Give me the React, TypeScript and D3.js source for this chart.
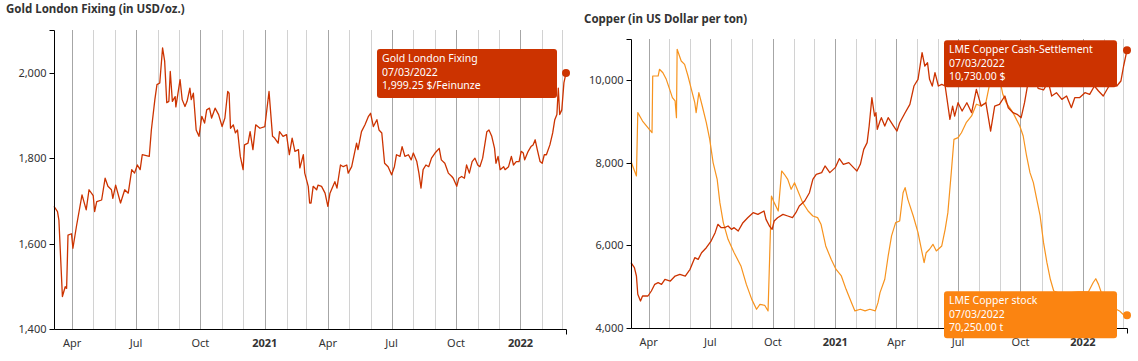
import React from 'react';
import * as d3 from 'd3';

// ---------- DATA ----------
const startDate = '2020-03-06';
const endDate = '2022-03-07';

const goldTitle = 'Gold London Fixing (in USD/oz.)';
const copperTitle = 'Copper (in US Dollar per ton)';

const goldTicks = [1400, 1600, 1800, 2000];
const copperTicks = [4000, 6000, 8000, 10000];

const goldSeries: [string, number][] = [
  ['2020-03-06', 1687], ['2020-03-11', 1675], ['2020-03-13', 1655], ['2020-03-18', 1476], ['2020-03-22', 1499],
  ['2020-03-24', 1495], ['2020-03-26', 1620], ['2020-03-31', 1623], ['2020-04-02', 1589], ['2020-04-07', 1640],
  ['2020-04-15', 1714], ['2020-04-21', 1679], ['2020-04-25', 1726], ['2020-05-01', 1712], ['2020-05-03', 1675],
  ['2020-05-06', 1698], ['2020-05-13', 1702], ['2020-05-18', 1753], ['2020-05-22', 1734], ['2020-05-27', 1726],
  ['2020-05-29', 1706], ['2020-06-02', 1737], ['2020-06-09', 1695], ['2020-06-15', 1726], ['2020-06-20', 1718],
  ['2020-06-25', 1773], ['2020-06-29', 1765], ['2020-07-03', 1784], ['2020-07-07', 1773], ['2020-07-10', 1808],
  ['2020-07-20', 1804], ['2020-07-23', 1866], ['2020-07-28', 1937], ['2020-07-31', 1972], ['2020-08-04', 1976],
  ['2020-08-08', 2058], ['2020-08-11', 2027], ['2020-08-14', 1930], ['2020-08-17', 1933], ['2020-08-19', 2003],
  ['2020-08-22', 1933], ['2020-08-26', 1944], ['2020-08-27', 1920], ['2020-09-02', 1984], ['2020-09-05', 1937],
  ['2020-09-09', 1921], ['2020-09-12', 1933], ['2020-09-16', 1964], ['2020-09-18', 1937], ['2020-09-21', 1952],
  ['2020-09-25', 1866], ['2020-09-29', 1851], ['2020-10-03', 1898], ['2020-10-07', 1882], ['2020-10-10', 1913],
  ['2020-10-14', 1917], ['2020-10-17', 1894], ['2020-10-22', 1917], ['2020-10-27', 1902], ['2020-11-01', 1874],
  ['2020-11-05', 1894], ['2020-11-09', 1956], ['2020-11-11', 1952], ['2020-11-13', 1870], ['2020-11-17', 1878],
  ['2020-11-20', 1859], ['2020-11-23', 1866], ['2020-11-27', 1804], ['2020-12-01', 1773], ['2020-12-03', 1831],
  ['2020-12-08', 1835], ['2020-12-11', 1862], ['2020-12-15', 1820], ['2020-12-19', 1878], ['2020-12-25', 1870],
  ['2021-01-01', 1874], ['2021-01-07', 1956], ['2021-01-12', 1851], ['2021-01-15', 1847], ['2021-01-20', 1835],
  ['2021-01-22', 1862], ['2021-01-27', 1851], ['2021-02-01', 1855], ['2021-02-05', 1808], ['2021-02-09', 1847],
  ['2021-02-13', 1816], ['2021-02-18', 1820], ['2021-02-20', 1777], ['2021-02-25', 1808], ['2021-02-27', 1765],
  ['2021-03-04', 1734], ['2021-03-06', 1695], ['2021-03-08', 1695], ['2021-03-11', 1734], ['2021-03-16', 1726],
  ['2021-03-18', 1737], ['2021-03-23', 1734], ['2021-03-28', 1718], ['2021-04-01', 1687], ['2021-04-04', 1718],
  ['2021-04-11', 1745], ['2021-04-14', 1730], ['2021-04-19', 1784], ['2021-04-23', 1780], ['2021-04-28', 1784],
  ['2021-04-30', 1765], ['2021-05-05', 1780], ['2021-05-12', 1835], ['2021-05-14', 1820], ['2021-05-19', 1862],
  ['2021-05-24', 1878], ['2021-05-29', 1898], ['2021-06-01', 1905], ['2021-06-05', 1874], ['2021-06-10', 1890],
  ['2021-06-13', 1866], ['2021-06-17', 1859], ['2021-06-21', 1788], ['2021-06-26', 1780], ['2021-07-01', 1761],
  ['2021-07-05', 1780], ['2021-07-08', 1808], ['2021-07-13', 1804], ['2021-07-16', 1827], ['2021-07-20', 1804],
  ['2021-07-25', 1808], ['2021-07-29', 1796], ['2021-08-01', 1812], ['2021-08-06', 1792], ['2021-08-09', 1765],
  ['2021-08-12', 1730], ['2021-08-15', 1773], ['2021-08-19', 1784], ['2021-08-23', 1780], ['2021-08-27', 1800],
  ['2021-09-01', 1812], ['2021-09-07', 1823], ['2021-09-10', 1796], ['2021-09-15', 1788], ['2021-09-20', 1765],
  ['2021-09-25', 1757], ['2021-09-27', 1753], ['2021-10-02', 1734], ['2021-10-05', 1753], ['2021-10-09', 1757],
  ['2021-10-13', 1753], ['2021-10-16', 1784], ['2021-10-20', 1765], ['2021-10-24', 1792], ['2021-10-28', 1800],
  ['2021-11-01', 1784], ['2021-11-04', 1780], ['2021-11-08', 1800], ['2021-11-14', 1862], ['2021-11-17', 1866],
  ['2021-11-21', 1851], ['2021-11-25', 1823], ['2021-11-27', 1788], ['2021-11-30', 1804], ['2021-12-03', 1773],
  ['2021-12-08', 1780], ['2021-12-10', 1773], ['2021-12-15', 1780], ['2021-12-19', 1804], ['2021-12-22', 1784],
  ['2021-12-26', 1792], ['2021-12-30', 1792], ['2022-01-02', 1816], ['2022-01-05', 1812], ['2022-01-07', 1796],
  ['2022-01-12', 1816], ['2022-01-16', 1827], ['2022-01-19', 1831], ['2022-01-22', 1843], ['2022-01-25', 1820],
  ['2022-01-29', 1792], ['2022-02-01', 1788], ['2022-02-04', 1808], ['2022-02-07', 1808], ['2022-02-12', 1831],
  ['2022-02-16', 1859], ['2022-02-19', 1890], ['2022-02-22', 1902], ['2022-02-24', 1964], ['2022-02-26', 1902],
  ['2022-03-01', 1913], ['2022-03-04', 1976], ['2022-03-07', 1999.25],
];

const copperSeries: [string, number][] = [
  ['2020-03-06', 5582], ['2020-03-11', 5461], ['2020-03-14', 5259], ['2020-03-16', 4816], ['2020-03-20', 4654],
  ['2020-03-23', 4775], ['2020-03-31', 4775], ['2020-04-05', 4896], ['2020-04-10', 5058], ['2020-04-15', 5098],
  ['2020-04-20', 5058], ['2020-04-25', 5179], ['2020-05-03', 5138], ['2020-05-10', 5259], ['2020-05-17', 5300],
  ['2020-05-25', 5259], ['2020-06-01', 5421], ['2020-06-08', 5703], ['2020-06-13', 5663], ['2020-06-18', 5824],
  ['2020-06-25', 5945], ['2020-07-02', 6107], ['2020-07-08', 6309], ['2020-07-12', 6511], ['2020-07-17', 6430],
  ['2020-07-22', 6430], ['2020-07-27', 6470], ['2020-08-01', 6390], ['2020-08-05', 6430], ['2020-08-11', 6350],
  ['2020-08-18', 6551], ['2020-08-25', 6672], ['2020-09-02', 6793], ['2020-09-09', 6753], ['2020-09-18', 6834],
  ['2020-09-21', 6632], ['2020-09-26', 6470], ['2020-09-30', 6390], ['2020-10-03', 6592], ['2020-10-08', 6672],
  ['2020-10-16', 6753], ['2020-10-23', 6713], ['2020-10-30', 6672], ['2020-11-04', 6793], ['2020-11-09', 6955],
  ['2020-11-17', 7076], ['2020-11-24', 7277], ['2020-11-29', 7601], ['2020-12-04', 7722], ['2020-12-12', 7763],
  ['2020-12-17', 7924], ['2020-12-24', 7763], ['2021-01-01', 7884], ['2021-01-07', 8101], ['2021-01-13', 7965],
  ['2021-01-21', 8005], ['2021-01-28', 7884], ['2021-02-02', 7803], ['2021-02-07', 7965], ['2021-02-12', 8327],
  ['2021-02-17', 8489], ['2021-02-20', 8892], ['2021-02-24', 9578], ['2021-02-28', 9135], ['2021-03-02', 9215],
  ['2021-03-04', 8812], ['2021-03-08', 9013], ['2021-03-10', 9094], ['2021-03-15', 8892], ['2021-03-20', 9094],
  ['2021-03-28', 8892], ['2021-04-02', 8771], ['2021-04-06', 8973], ['2021-04-14', 9215], ['2021-04-21', 9417],
  ['2021-04-27', 9861], ['2021-05-03', 10023], ['2021-05-09', 10669], ['2021-05-13', 10346], ['2021-05-17', 10427],
  ['2021-05-20', 10023], ['2021-05-24', 9861], ['2021-05-28', 10184], ['2021-06-02', 9861], ['2021-06-07', 9901],
  ['2021-06-12', 9861], ['2021-06-19', 9054], ['2021-06-23', 9376], ['2021-06-26', 9134], ['2021-07-01', 9457],
  ['2021-07-07', 9255], ['2021-07-14', 9457], ['2021-07-21', 9215], ['2021-07-28', 9781], ['2021-08-04', 9376],
  ['2021-08-11', 9457], ['2021-08-18', 8771], ['2021-08-24', 9376], ['2021-08-31', 9417], ['2021-09-08', 9619],
  ['2021-09-13', 9336], ['2021-09-20', 9215], ['2021-09-26', 9175], ['2021-10-02', 9094], ['2021-10-07', 9457],
  ['2021-10-13', 10023], ['2021-10-17', 10507], ['2021-10-22', 10104], ['2021-10-27', 9805], ['2021-11-04', 9765],
  ['2021-11-11', 9966], ['2021-11-16', 9619], ['2021-11-23', 9700], ['2021-12-01', 9538], ['2021-12-08', 9619],
  ['2021-12-15', 9336], ['2021-12-20', 9578], ['2021-12-27', 9578], ['2022-01-04', 9700], ['2022-01-11', 9659],
  ['2022-01-18', 9861], ['2022-01-24', 9740], ['2022-01-31', 9619], ['2022-02-07', 9820], ['2022-02-14', 9966],
  ['2022-02-20', 9861], ['2022-02-26', 9982], ['2022-03-02', 10346], ['2022-03-07', 10730],
];

const stockSeries: [string, number][] = [
  ['2020-03-06', 182000], ['2020-03-14', 171500], ['2020-03-16', 217500], ['2020-03-23', 211400], ['2020-04-02', 205400],
  ['2020-04-06', 202900], ['2020-04-07', 244100], ['2020-04-15', 244100], ['2020-04-17', 249000], ['2020-04-22', 246500],
  ['2020-04-27', 241700], ['2020-05-02', 234400], ['2020-05-06', 228400], ['2020-05-10', 226000], ['2020-05-12', 213800],
  ['2020-05-13', 263500], ['2020-05-19', 255000], ['2020-05-24', 252600], ['2020-05-29', 244100], ['2020-06-03', 234400],
  ['2020-06-08', 224700], ['2020-06-10', 217500], ['2020-06-14', 232000], ['2020-06-19', 222300], ['2020-06-25', 210200],
  ['2020-06-30', 198100], ['2020-07-05', 181200], ['2020-07-11', 169000], ['2020-07-15', 152100], ['2020-07-20', 137600],
  ['2020-07-27', 125400], ['2020-08-05', 115700], ['2020-08-15', 106100], ['2020-08-23', 92700], ['2020-08-31', 81800],
  ['2020-09-07', 74600], ['2020-09-12', 78200], ['2020-09-19', 77500], ['2020-09-24', 73400], ['2020-09-29', 156900],
  ['2020-10-03', 152100], ['2020-10-09', 146000], ['2020-10-14', 175100], ['2020-10-18', 172700], ['2020-10-23', 169000],
  ['2020-10-28', 161800], ['2020-11-02', 166600], ['2020-11-07', 160600], ['2020-11-14', 152100], ['2020-11-22', 146000],
  ['2020-11-29', 142400], ['2020-12-06', 141200], ['2020-12-11', 136400], ['2020-12-18', 120600], ['2020-12-26', 110900],
  ['2021-01-02', 103700], ['2021-01-10', 98800], ['2021-01-17', 89100], ['2021-01-25', 79400], ['2021-01-30', 73400],
  ['2021-02-07', 74600], ['2021-02-14', 73400], ['2021-02-21', 74600], ['2021-03-01', 73400], ['2021-03-05', 79400],
  ['2021-03-08', 86700], ['2021-03-15', 96400], ['2021-03-20', 113300], ['2021-03-25', 127900], ['2021-03-31', 137600],
  ['2021-04-06', 138800], ['2021-04-11', 159300], ['2021-04-14', 163000], ['2021-04-18', 154500], ['2021-04-26', 142400],
  ['2021-05-03', 130300], ['2021-05-08', 118200], ['2021-05-12', 108500], ['2021-05-15', 115700], ['2021-05-20', 118200],
  ['2021-05-25', 121800], ['2021-05-30', 117000], ['2021-06-07', 120600], ['2021-06-12', 132700], ['2021-06-16', 144800],
  ['2021-06-21', 173900], ['2021-06-25', 198100], ['2021-07-01', 199300], ['2021-07-06', 202900], ['2021-07-13', 210200],
  ['2021-07-21', 215100], ['2021-07-28', 223600], ['2021-08-04', 222300], ['2021-08-11', 224700], ['2021-08-16', 236900],
  ['2021-08-18', 244100], ['2021-08-22', 253800], ['2021-08-28', 250000], ['2021-09-05', 230800], ['2021-09-10', 224700],
  ['2021-09-15', 221100], ['2021-09-20', 217500], ['2021-09-25', 212600], ['2021-09-30', 207800], ['2021-10-05', 200500],
  ['2021-10-10', 186000], ['2021-10-15', 173900], ['2021-10-20', 166600], ['2021-10-25', 154500], ['2021-10-30', 142400],
  ['2021-11-04', 123000], ['2021-11-09', 108500], ['2021-11-14', 96400], ['2021-11-19', 87900], ['2021-12-01', 85700],
  ['2021-12-15', 86700], ['2021-12-25', 87200], ['2022-01-09', 87200], ['2022-01-16', 93900], ['2022-01-20', 96800],
  ['2022-01-24', 92700], ['2022-01-29', 85500], ['2022-02-07', 79400], ['2022-02-19', 74600], ['2022-02-24', 73400],
  ['2022-03-01', 71000], ['2022-03-07', 70250],
];

const goldTooltip = ['Gold London Fixing', '07/03/2022', '1,999.25 $/Feinunze'];
const copperTooltip = ['LME Copper Cash-Settlement', '07/03/2022', '10,730.00 $'];
const stockTooltip = ['LME Copper stock', '07/03/2022', '70,250.00 t'];

const monthLabels = ['', '', '', 'Apr', '', '', 'Jul', '', '', 'Oct', '', ''];

// ---------- STYLE ----------
const FONT = "'Noto Sans', 'DejaVu Sans', sans-serif";
const RED = '#cc3300';
const ORANGE = '#f7931e';
const ORANGE_BOX = '#fb8411';
const TEXT = '#333';

const parse = d3.utcParse('%Y-%m-%d');

type Pt = { d: Date; v: number };
const toPts = (s: [string, number][]): Pt[] => s.map(([d, v]) => ({ d: parse(d) as Date, v }));

function TimeGrid({ x, y0, y1, x0, x1 }: { x: d3.ScaleTime<number, number>; y0: number; y1: number; x0: number; x1: number }) {
  const months = d3.utcMonth.range(d3.utcMonth.ceil(x.domain()[0]), x.domain()[1]);
  return (
    <g>
      {months.map((m, i) => {
        const px = Math.round(x(m)) + 0.5;
        const q = m.getUTCMonth() % 3 === 0;
        return <line key={i} x1={px} x2={px} y1={y0} y2={y1} stroke={q ? '#a6a6a6' : '#d2d2d2'} strokeWidth={1} />;
      })}
    </g>
  );
}

function XLabels({ x, y }: { x: d3.ScaleTime<number, number>; y: number }) {
  const months = d3.utcMonth.range(d3.utcMonth.ceil(x.domain()[0]), x.domain()[1]);
  return (
    <g fontFamily={FONT} fontSize={11} fill={TEXT} textAnchor="middle">
      {months.map((m, i) => {
        const mo = m.getUTCMonth();
        if (mo === 0) {
          return <text key={i} x={x(m)} y={y} fontWeight="bold">{m.getUTCFullYear()}</text>;
        }
        const lbl = monthLabels[mo];
        if (!lbl) return null;
        return <text key={i} x={x(m)} y={y}>{lbl}</text>;
      })}
    </g>
  );
}

function Axes({ x, y, ticks }: { x: d3.ScaleTime<number, number>; y: d3.ScaleLinear<number, number>; ticks: number[] }) {
  const [xa, xb] = x.range();
  const [yb, yt] = y.range();
  const fmt = d3.format(',');
  const ax = Math.round(xa) + 0.5;
  const by = Math.round(yb) + 0.5;
  return (
    <g>
      <path d={`M${ax - 5},${Math.round(yt) + 0.5}H${ax}V${by}`} fill="none" stroke="#000" strokeWidth={1} />
      <path d={`M${ax},${by}H${Math.round(xb) + 0.5}V${by + 5}`} fill="none" stroke="#000" strokeWidth={1} />
      {ticks.map((t) => (
        <g key={t}>
          <line x1={ax - 5} x2={ax} y1={Math.round(y(t)) + 0.5} y2={Math.round(y(t)) + 0.5} stroke="#000" />
          <text x={ax - 8} y={y(t) + 4} textAnchor="end" fontFamily={FONT} fontSize={11} fill={TEXT}>{fmt(t)}</text>
        </g>
      ))}
    </g>
  );
}

function Tooltip({ x, y, w, h, fill, lines }: { x: number; y: number; w: number; h: number; fill: string; lines: string[] }) {
  return (
    <g>
      <rect x={x} y={y} width={w} height={h} rx={3} ry={3} fill={fill} />
      {lines.map((l, i) => (
        <text key={i} x={x + 5} y={y + 13 + i * 13.6} fontFamily={FONT} fontSize={10.5} fill="#fff">{l}</text>
      ))}
    </g>
  );
}

export default function App() {
  const d0 = parse(startDate) as Date;
  const d1 = parse(endDate) as Date;

  // Gold chart
  const gx = d3.scaleUtc().domain([d0, d1]).range([54, 566]);
  const gy = d3.scaleLinear().domain([1400, 2100]).range([329, 30]);
  const gold = toPts(goldSeries);
  const gLine = d3.line<Pt>().x((p) => gx(p.d)).y((p) => gy(p.v));
  const gLast = gold[gold.length - 1];

  // Copper chart
  const cx = d3.scaleUtc().domain([d0, d1]).range([631, 1127]);
  const cy = d3.scaleLinear().domain([4000, 11000]).range([328, 39]);
  const sy = d3.scaleLinear().domain([61000, 271000]).range([328, 39]);
  const copper = toPts(copperSeries);
  const stock = toPts(stockSeries);
  const cLine = d3.line<Pt>().x((p) => cx(p.d)).y((p) => cy(p.v));
  const sLine = d3.line<Pt>().x((p) => cx(p.d)).y((p) => sy(p.v));
  const cLast = copper[copper.length - 1];
  const sLast = stock[stock.length - 1];

  const gTipX = gx(gLast.d) - 189;
  const gTipY = gy(gLast.v) - 24;
  const cTipX = cx(cLast.d) - 183;
  const cTipY = cy(cLast.v) - 10;
  const sTipY = sy(sLast.v) - 24;

  return (
    <svg width={1138} height={361} style={{ position: 'absolute', left: 0, top: 0, background: '#fff' }}>
      <rect x={0} y={0} width={1138} height={361} fill="#fff" />
      {/* Gold */}
      <text x={6} y={13} fontFamily={FONT} fontSize={11.5} fontWeight="bold" fill={TEXT}>{goldTitle}</text>
      <TimeGrid x={gx} y0={30} y1={329} x0={54} x1={566} />
      <path d={gLine(gold) || ''} fill="none" stroke={RED} strokeWidth={1.3} strokeLinejoin="round" />
      <Axes x={gx} y={gy} ticks={goldTicks} />
      <XLabels x={gx} y={347} />
      <circle cx={gx(gLast.d)} cy={gy(gLast.v)} r={4} fill={RED} />
      <Tooltip x={gTipX} y={gTipY} w={180} h={49} fill={RED} lines={goldTooltip} />

      {/* Copper */}
      <text x={584} y={22.5} fontFamily={FONT} fontSize={11.5} fontWeight="bold" fill={TEXT}>{copperTitle}</text>
      <TimeGrid x={cx} y0={39} y1={328} x0={631} x1={1127} />
      <path d={sLine(stock) || ''} fill="none" stroke={ORANGE} strokeWidth={1.2} strokeLinejoin="round" />
      <path d={cLine(copper) || ''} fill="none" stroke={RED} strokeWidth={1.3} strokeLinejoin="round" />
      <Axes x={cx} y={cy} ticks={copperTicks} />
      <XLabels x={cx} y={346} />
      <circle cx={cx(cLast.d)} cy={cy(cLast.v)} r={4} fill={RED} />
      <circle cx={cx(sLast.d)} cy={sy(sLast.v)} r={4} fill={ORANGE_BOX} />
      <Tooltip x={cTipX} y={cTipY} w={173} h={47} fill={RED} lines={copperTooltip} />
      <Tooltip x={cTipX} y={sTipY} w={173} h={47} fill={ORANGE_BOX} lines={stockTooltip} />
    </svg>
  );
}
